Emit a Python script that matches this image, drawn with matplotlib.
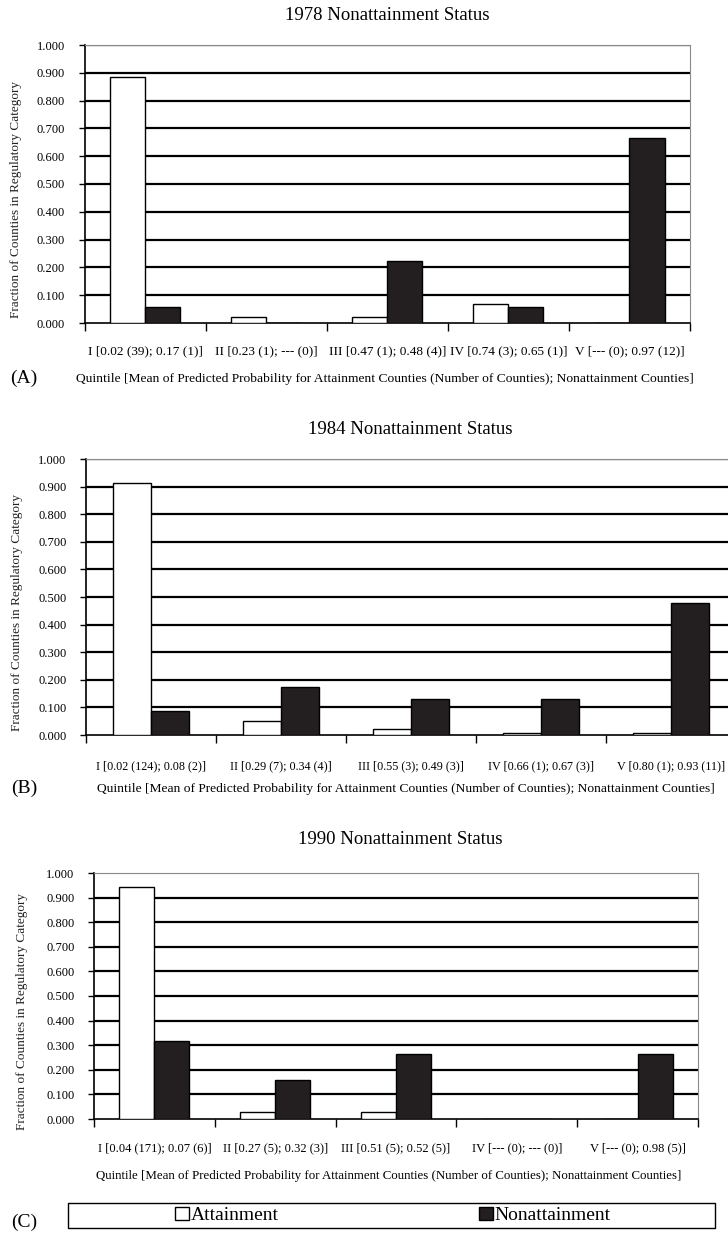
import numpy as np
import matplotlib
matplotlib.use("Agg")
from matplotlib import pyplot as plt
from matplotlib.patches import Patch, Rectangle

plt.rcParams['font.family'] = ['Liberation Serif', 'DejaVu Serif']

W, H = 728, 1234

# fraction of counties in each quintile (attainment / nonattainment)
labels_1978 = ["I [0.02 (39); 0.17 (1)]", "II [0.23 (1); --- (0)]",
               "III [0.47 (1); 0.48 (4)]", "IV [0.74 (3); 0.65 (1)]",
               "V [--- (0); 0.97 (12)]"]
att_1978 = [0.886, 0.023, 0.023, 0.068, 0.0]
non_1978 = [0.056, 0.0, 0.222, 0.056, 0.667]

labels_1984 = ["I [0.02 (124); 0.08 (2)]", "II [0.29 (7); 0.34 (4)]",
               "III [0.55 (3); 0.49 (3)]", "IV [0.66 (1); 0.67 (3)]",
               "V [0.80 (1); 0.93 (11)]"]
att_1984 = [0.912, 0.051, 0.022, 0.007, 0.007]
non_1984 = [0.087, 0.174, 0.130, 0.130, 0.478]

labels_1990 = ["I [0.04 (171); 0.07 (6)]", "II [0.27 (5); 0.32 (3)]",
               "III [0.51 (5); 0.52 (5)]", "IV [--- (0); --- (0)]",
               "V [--- (0); 0.98 (5)]"]
att_1990 = [0.945, 0.028, 0.028, 0.0, 0.0]
non_1990 = [0.316, 0.158, 0.263, 0.0, 0.263]

yticks = np.arange(0, 1.01, 0.1)
xlab = ("Quintile [Mean of Predicted Probability for Attainment Counties "
        "(Number of Counties); Nonattainment Counties]")


def fx(x):
    return x / W


def fy(y):
    return 1 - y / H


def panel(fig, box, title, labels, att, non, tick_fs, tick_pad, top_grid,
          title_xy, xlab_xy, xlab_fs, ylab_xy, tag_y, tag):
    left, top, right, bottom = box
    ax = fig.add_axes([fx(left), fy(bottom), fx(right - left), (bottom - top) / H])
    x = np.arange(len(labels))
    w = 0.29
    ax.bar(x - w / 2, att, w, color='white', edgecolor='black', lw=1.0, zorder=3)
    ax.bar(x + w / 2, non, w, color='#231f20', edgecolor='black', lw=1.0, zorder=3)
    ax.set_xlim(-0.5, len(labels) - 0.5)
    ax.set_ylim(0, 1)
    ax.set_yticks(yticks)
    ax.set_yticklabels(["%.3f" % v for v in yticks], fontsize=9)
    ax.tick_params(axis='y', length=4, width=1, pad=10, direction='out')
    ax.set_xticks(x)
    ax.set_xticklabels(labels, fontsize=tick_fs)
    ax.set_xticks(np.arange(-0.5, len(labels), 1), minor=True)
    ax.tick_params(axis='x', which='major', length=0, pad=tick_pad)
    ax.tick_params(axis='x', which='minor', length=6, width=1, direction='out')
    ax.yaxis.grid(True, color='black', lw=1.6, zorder=1)
    ax.get_ygridlines()[0].set_visible(False)
    if not top_grid:
        ax.get_ygridlines()[-1].set_visible(False)
    ax.set_axisbelow(True)
    for s in ['top', 'right']:
        ax.spines[s].set_color('#8a8a8a')
        ax.spines[s].set_linewidth(0.8)
    for s in ['left', 'bottom']:
        ax.spines[s].set_color('black')
        ax.spines[s].set_linewidth(1.2)
    fig.text(fx(title_xy[0]), fy(title_xy[1]), title, fontsize=13.5, ha='center', va='center')
    fig.text(fx(xlab_xy[0]), fy(xlab_xy[1]), xlab, fontsize=xlab_fs, ha='center', va='center')
    fig.text(fx(ylab_xy[0]), fy(ylab_xy[1]), "Fraction of Counties in Regulatory Category",
             fontsize=9.5, rotation=90, ha='center', va='center', color='#222222')
    fig.text(fx(24), fy(tag_y), tag, fontsize=14, ha='center', va='center')
    return ax


fig = plt.figure(figsize=(W / 100, H / 100), dpi=100)

panel(fig, (84.5, 45, 690, 323), "1978 Nonattainment Status", labels_1978,
      att_1978, non_1978, 9.5, 16, True, (387, 15), (385, 379), 9.7, (16, 200), 378, "(A)")
panel(fig, (86, 459, 736, 735), "1984 Nonattainment Status", labels_1984,
      att_1984, non_1984, 8.7, 18, True, (410, 430), (406, 789), 9.7, (17, 612), 788, "(B)")
panel(fig, (94, 873, 698, 1119), "1990 Nonattainment Status", labels_1990,
      att_1990, non_1990, 9, 17, False, (400, 840), (389, 1176), 9.3, (22, 1011), 1222, "(C)")

# legend box
fig.patches.append(Rectangle((fx(68), fy(1228)), fx(715 - 68), (1228 - 1203) / H,
                             transform=fig.transFigure, facecolor='white',
                             edgecolor='black', lw=1.0))
handles = [Patch(facecolor='white', edgecolor='black', lw=1.0),
           Patch(facecolor='#231f20', edgecolor='black', lw=1.0)]
fig.legend(handles, ["Attainment", "Nonattainment"], loc='center',
           bbox_to_anchor=(fx(393), fy(1215.5)), ncol=2, frameon=False,
           fontsize=14, handlelength=0.7, handleheight=0.7, handletextpad=0.1,
           columnspacing=10.3, borderpad=0)

fig.savefig("out.png", dpi=100)
